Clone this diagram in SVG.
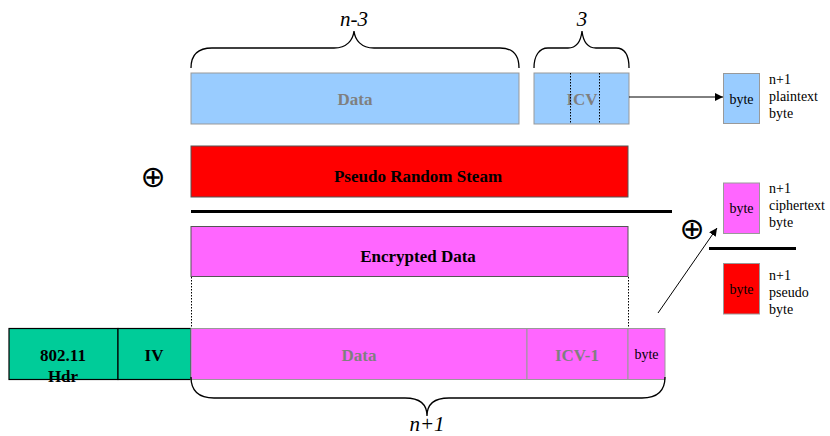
<svg xmlns="http://www.w3.org/2000/svg" width="830" height="436" viewBox="0 0 830 436">
<style>
.lbl{font-family:"Liberation Serif","Times New Roman",serif;font-weight:bold;font-size:17px;text-anchor:middle}
.gray{fill:#7f7f7f}
.blk{fill:#000}
.sm{font-family:"Liberation Serif","Times New Roman",serif;font-size:14px}
.it{font-family:"Liberation Serif","Times New Roman",serif;font-style:italic;font-size:21px;text-anchor:middle}
.xor{font-family:"DejaVu Sans",sans-serif;font-size:30px;text-anchor:middle}
.brace{fill:none;stroke:#000;stroke-width:1.3}
.dot{stroke:#000;stroke-width:1;stroke-dasharray:1.5,1.5}
</style>
<defs>
<marker id="ah" viewBox="0 0 10 10" refX="10" refY="5" markerWidth="8" markerHeight="8" orient="auto" markerUnits="userSpaceOnUse">
<path d="M0,0 L10,5 L0,10 z" fill="#000"/>
</marker>
</defs>
<rect width="830" height="436" fill="#fff"/>

<g id="brace-n3">
<path class="brace" d="M191,68 C191,55 198,48 212,48 L334,48 C347,48 353,40 354,31 C355,40 361,48 374,48 L500,48 C513,48 519,55 519,68"/>
<text class="it" x="354" y="26">n-3</text>
</g>
<g id="brace-3">
<path class="brace" d="M534,68 C534,56 539,48 548,48 L568,48 C577,48 581,40 582,31 C583,40 587,48 596,48 L616,48 C625,48 629,56 629,68"/>
<text class="it" x="582" y="26">3</text>
</g>

<g id="plain-data">
<rect x="191" y="73" width="328" height="51" fill="#99ccff" stroke="#999" stroke-width="1"/>
<text class="lbl gray" x="355" y="105">Data</text>
</g>
<g id="plain-icv">
<rect x="534" y="73" width="95" height="51" fill="#99ccff" stroke="#999" stroke-width="1"/>
<text class="lbl gray" x="582" y="105">ICV</text>
<line class="dot" x1="570.5" y1="73" x2="570.5" y2="124"/>
<line class="dot" x1="599.5" y1="73" x2="599.5" y2="124"/>
</g>

<g id="xor1"><text class="xor" x="153" y="187">⊕</text></g>

<g id="pseudo">
<rect x="191" y="146" width="437" height="51" fill="#ff0000" stroke="#555" stroke-width="1"/>
<text class="lbl blk" x="418" y="182">Pseudo Random Steam</text>
</g>

<g id="sumline1"><line x1="191" y1="211.5" x2="672" y2="211.5" stroke="#000" stroke-width="3"/></g>

<g id="encrypted">
<rect x="191" y="226.5" width="437" height="50" fill="#ff66ff" stroke="#555" stroke-width="1"/>
<text class="lbl blk" x="418" y="262">Encrypted Data</text>
</g>

<g id="frame-hdr">
<rect x="9" y="328.5" width="109" height="51" fill="#00cc99" stroke="#000" stroke-width="1.2"/>
<text class="lbl blk" x="63" y="361">802.11</text>
<text class="lbl blk" x="63" y="382">Hdr</text>
</g>
<g id="frame-iv">
<rect x="118" y="328.5" width="73" height="51" fill="#00cc99" stroke="#000" stroke-width="1.2"/>
<text class="lbl blk" x="154" y="361">IV</text>
</g>
<g id="frame-data">
<rect x="191" y="328.5" width="336" height="51" fill="#ff66ff" stroke="#999" stroke-width="1"/>
<text class="lbl gray" x="359" y="361">Data</text>
</g>
<g id="frame-icv1">
<rect x="527" y="328.5" width="101" height="51" fill="#ff66ff" stroke="#999" stroke-width="1"/>
<text class="lbl gray" x="577" y="361">ICV-1</text>
</g>
<g id="frame-byte">
<rect x="628" y="328.5" width="37" height="51" fill="#ff66ff" stroke="#999" stroke-width="1"/>
<text class="sm" x="646.5" y="359" text-anchor="middle">byte</text>
</g>

<g id="brace-n1">
<path class="brace" d="M191,377 C191,391 199,398 214,398 L405,398 C420,398 427,405 427,416 C427,405 434,398 449,398 L642,398 C657,398 665,391 665,377"/>
<text class="it" x="427" y="431">n+1</text>
</g>

<g id="byte-plain">
<rect x="723.5" y="73.5" width="36" height="50" fill="#99ccff" stroke="#999" stroke-width="1"/>
<text class="sm" x="741.5" y="104" text-anchor="middle">byte</text>
<text class="sm" x="769" y="84">n+1</text>
<text class="sm" x="769" y="101">plaintext</text>
<text class="sm" x="769" y="118">byte</text>
</g>
<g id="byte-cipher">
<rect x="723.5" y="183" width="36" height="50.5" fill="#ff66ff" stroke="#999" stroke-width="1"/>
<text class="sm" x="741.5" y="213" text-anchor="middle">byte</text>
<text class="sm" x="769" y="193">n+1</text>
<text class="sm" x="769" y="210">ciphertext</text>
<text class="sm" x="769" y="227">byte</text>
</g>
<g id="xor2"><text class="xor" x="692" y="239">⊕</text></g>
<g id="sumline2"><line x1="709" y1="248.5" x2="796" y2="248.5" stroke="#000" stroke-width="3"/></g>
<g id="byte-pseudo">
<rect x="723.5" y="263.5" width="36" height="50.5" fill="#ff0000" stroke="#999" stroke-width="1"/>
<text class="sm" x="741.5" y="294" text-anchor="middle">byte</text>
<text class="sm" x="769" y="280">n+1</text>
<text class="sm" x="769" y="297">pseudo</text>
<text class="sm" x="769" y="314">byte</text>
</g>

<g id="connectors">
<line x1="629" y1="97" x2="723" y2="97" stroke="#000" stroke-width="1" marker-end="url(#ah)"/>
<line x1="658" y1="313" x2="717" y2="228" stroke="#000" stroke-width="1" marker-end="url(#ah)"/>
<line class="dot" x1="191.5" y1="277" x2="191.5" y2="328"/>
<line class="dot" x1="628.5" y1="277" x2="628.5" y2="328"/>
</g>
</svg>
